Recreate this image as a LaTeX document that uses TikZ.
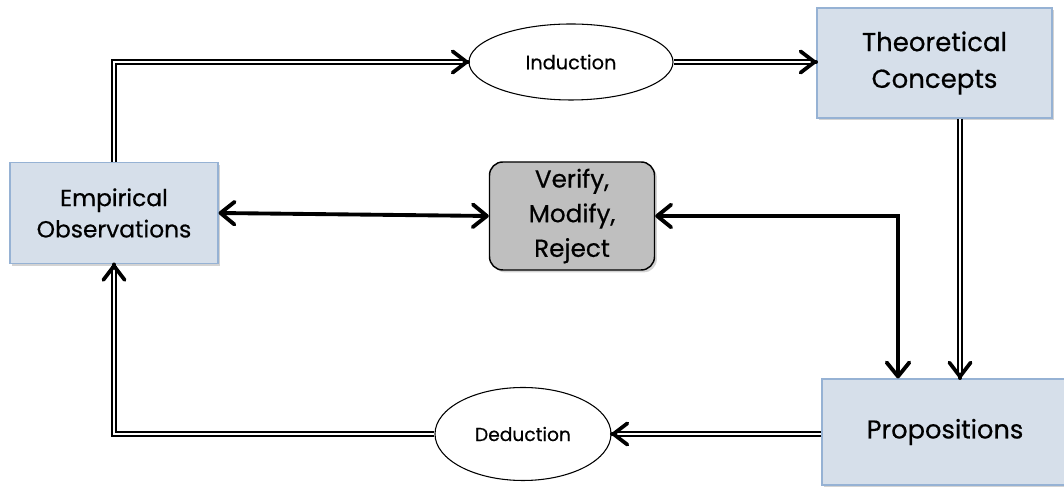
\documentclass[tikz,border=0pt]{standalone}
\usepackage{fontspec}
\setmainfont{Poppins}
\newfontfamily\labelfont{Poppins}[FakeBold=0.5]
\usetikzlibrary{arrows.meta,calc,shapes.geometric,shadows}
\definecolor{boxfill}{RGB}{214,223,234}
\definecolor{boxline}{RGB}{150,178,212}
\definecolor{hubfill}{RGB}{191,191,191}
\begin{document}
\begin{tikzpicture}[x=0.75pt,y=0.75pt,
  bluebox/.style={rectangle, fill=boxfill, draw=boxline, line width=0.9pt,
    inner sep=0pt, align=center,
    drop shadow={shadow xshift=1.8pt, shadow yshift=-1.8pt, opacity=0.35}},
  oval/.style={ellipse, draw=black, line width=0.8pt, fill=white, inner sep=0pt},
  hub/.style={rectangle, rounded corners=10pt, fill=hubfill, draw=black,
    line width=1.1pt, inner sep=0pt, align=center,
    drop shadow={shadow xshift=1.8pt, shadow yshift=-1.8pt, opacity=0.35}},
  dline/.style={draw=black, double=white, double distance=2pt, line width=1.1pt,
    shorten >=1.5pt},
  tipmark/.style={line width=2.8pt, line cap=round,
    -{Straight Barb[round, length=10.5pt, width=16pt]}},
  bold/.style={line width=2.9pt,
    {Straight Barb[round, length=10.5pt, width=17pt]}-{Straight Barb[round, length=10.5pt, width=17pt]}}
]
\useasboundingbox (0,0) rectangle (1064,488);
\clip (0,0) rectangle (1064,488);

% boxes and ovals
\node[bluebox, minimum width=156pt, minimum height=75.75pt,
  font=\labelfont\fontsize{17.5}{23.5}\selectfont] (emp) at (114,275) {Empirical\\Observations};
\node[bluebox, minimum width=176.25pt, minimum height=82.5pt,
  font=\labelfont\fontsize{19.5}{27.5}\selectfont] (theo) at (934.5,425) {Theoretical\\Concepts};
\node[bluebox, minimum width=184.5pt, minimum height=79.5pt,
  font=\labelfont\fontsize{19.3}{24}\selectfont] (prop) at (945,56) {Propositions};
\node[oval, minimum width=153pt, minimum height=57pt,
  font=\labelfont\fontsize{14.5}{18}\selectfont] (ind) at (571,426) {Induction};
\node[oval, minimum width=132pt, minimum height=69.75pt,
  font=\labelfont\fontsize{14}{18}\selectfont] (ded) at (523,54) {Deduction};
\node[hub, minimum width=123.75pt, minimum height=81pt,
  font=\labelfont\fontsize{18.5}{26}\selectfont] (ver) at (572,272) {Verify,\\Modify,\\Reject};

% helper points
\coordinate (tq) at ($(theo.south)+(25.5,0)$);
\coordinate (pj) at ($(prop.north)+(-47,0)$);
\coordinate (ti) at (ind.east -| theo.west);

% induction path
\draw[dline] (emp.north) |- (ind.west);
\draw[tipmark] ($(ind.west)+(-0.3,0)$) -- (ind.west);
\draw[dline] (ind.east) -- (ti);
\draw[tipmark] ($(ti)+(-0.3,0)$) -- (ti);

% concepts to propositions
\draw[dline] (tq) -- (tq |- prop.north);
\draw[tipmark] ($(tq |- prop.north)+(0,0.3)$) -- (tq |- prop.north);

% deduction path
\draw[dline] (ded.east -| prop.west) -- (ded.east);
\draw[tipmark] ($(ded.east)+(0.3,0)$) -- (ded.east);
\draw[dline] (ded.west) -| (emp.south);
\draw[tipmark] ($(emp.south)+(0,-0.3)$) -- (emp.south);

% verification links
\draw[bold] (emp.east) -- (ver.west);
\draw[bold, line join=miter] (ver.east) -| (pj);
\end{tikzpicture}
\end{document}
